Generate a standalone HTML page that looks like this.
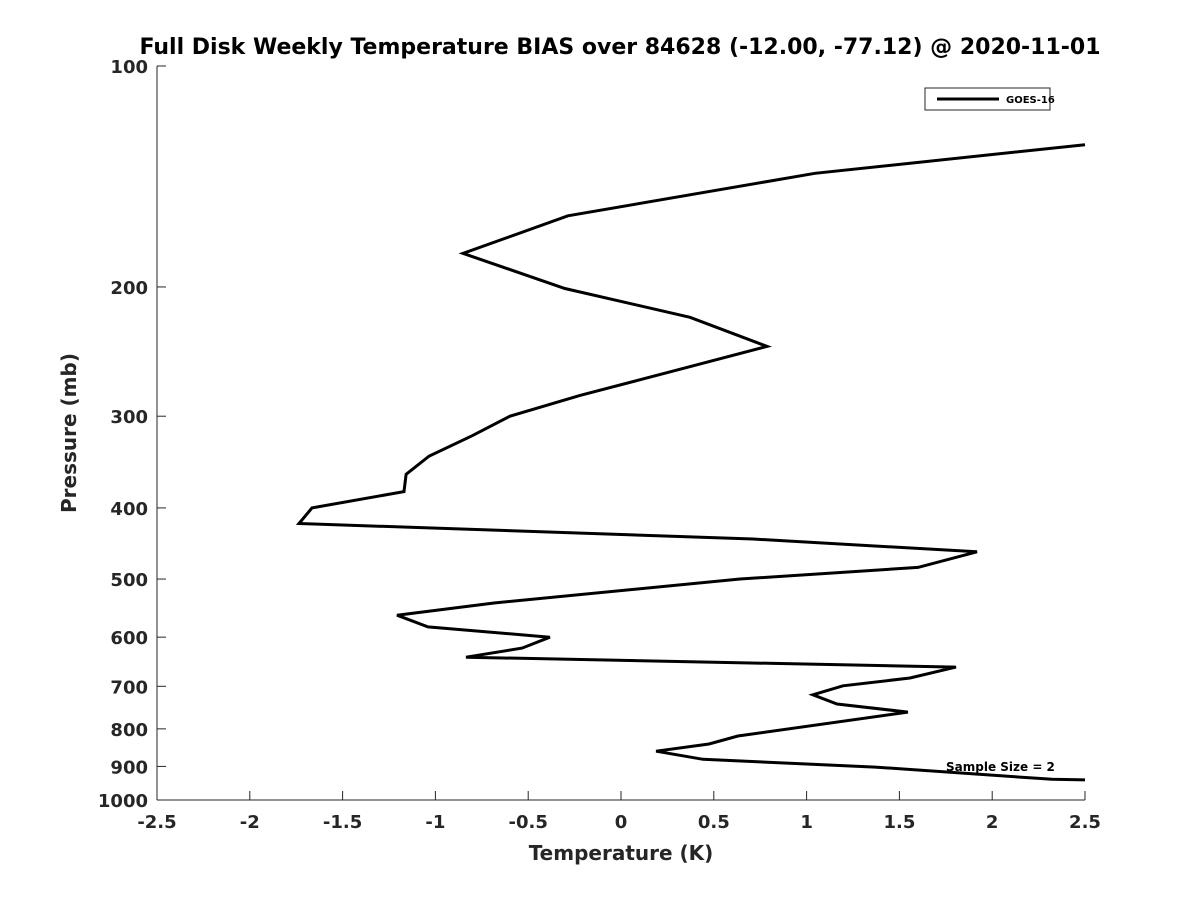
<!DOCTYPE html>
<html><head><meta charset="utf-8"><style>
body{margin:0;background:#fff;font-family:"DejaVu Sans","Liberation Sans",sans-serif}
svg text{font-family:"DejaVu Sans","Liberation Sans",sans-serif;font-weight:bold;fill:#262626}
</style></head><body>
<svg id="chart" width="1200" height="900" viewBox="0 0 1200 900">
<rect width="1200" height="900" fill="#fff"/>
<text x="620" y="54" font-size="22" text-anchor="middle" style="fill:#000">Full Disk Weekly Temperature BIAS over 84628 (-12.00, -77.12) @ 2020-11-01</text>
<g id="axes"></g>
<text x="621" y="860" font-size="20" text-anchor="middle">Temperature (K)</text>
<text transform="translate(76,433) rotate(-90)" font-size="20" text-anchor="middle">Pressure (mb)</text>
<g>
<rect x="925" y="88" width="125" height="22" fill="#fff" stroke="#262626" stroke-width="1"/>
<line x1="937" y1="99" x2="999" y2="99" stroke="#000" stroke-width="3"/>
<text x="1006" y="103" font-size="10" style="fill:#000">GOES-16</text>
</g>
<text x="946" y="771" font-size="12" style="fill:#000">Sample Size = 2</text>
</svg>
<script>
const temps=[2.5,1.045,-0.286,-0.851,-0.302,0.372,0.787,0.291,-0.221,-0.598,-0.803,-1.034,-1.158,-1.169,-1.665,-1.735,0.711,1.918,1.6,0.641,-0.684,-1.207,-1.04,-0.383,-0.533,-0.835,1.805,1.557,1.196,1.034,1.164,1.546,0.63,0.474,0.189,0.442,1.369,2.322,2.5];
const pressures=[128,140,160,180,201,220,241,260,281,300,319,340,360,380,400,420,441,459,482,500,539,560,581,600,621,639,659,682,699,719,740,759,818,839,858,880,902,937,939];
const xTicks=[-2.5,-2,-1.5,-1,-0.5,0,0.5,1,1.5,2,2.5];
const yTicks=[100,200,300,400,500,600,700,800,900,1000];
const L=157,R=1085,T=66,B=800;
const ns="http://www.w3.org/2000/svg";
const sx=v=>L+(v+2.5)/5*(R-L);
const sy=p=>T+Math.log10(p/100)*(B-T);
const svg=document.getElementById('chart');
const ax=document.getElementById('axes');
function mk(t,a,parent){const e=document.createElementNS(ns,t);for(const k in a)e.setAttribute(k,a[k]);(parent||ax).appendChild(e);return e;}
let e=mk('line',{x1:L,y1:B,x2:R,y2:B,stroke:'#262626'});


e=mk('line',{x1:L,y1:T,x2:L,y2:B,stroke:'#262626'});


xTicks.forEach(v=>{const x=sx(v);mk('line',{x1:x,y1:B,x2:x,y2:B-9,stroke:'#262626'});
const t=mk('text',{x:x,y:B+28,'font-size':18,'text-anchor':'middle'});t.textContent=v;

});
yTicks.forEach(p=>{const y=sy(p);mk('line',{x1:L,y1:y,x2:L+9,y2:y,stroke:'#262626'});
const t=mk('text',{x:L-9,y:y+7,'font-size':18,'text-anchor':'end'});t.textContent=p;

});
const pts=temps.map((v,i)=>sx(v).toFixed(1)+','+sy(pressures[i]).toFixed(1)).join(' ');
const line=mk('polyline',{points:pts,fill:'none',stroke:'#000','stroke-width':3,'stroke-linejoin':'miter'},svg);


</script>
</body></html>
